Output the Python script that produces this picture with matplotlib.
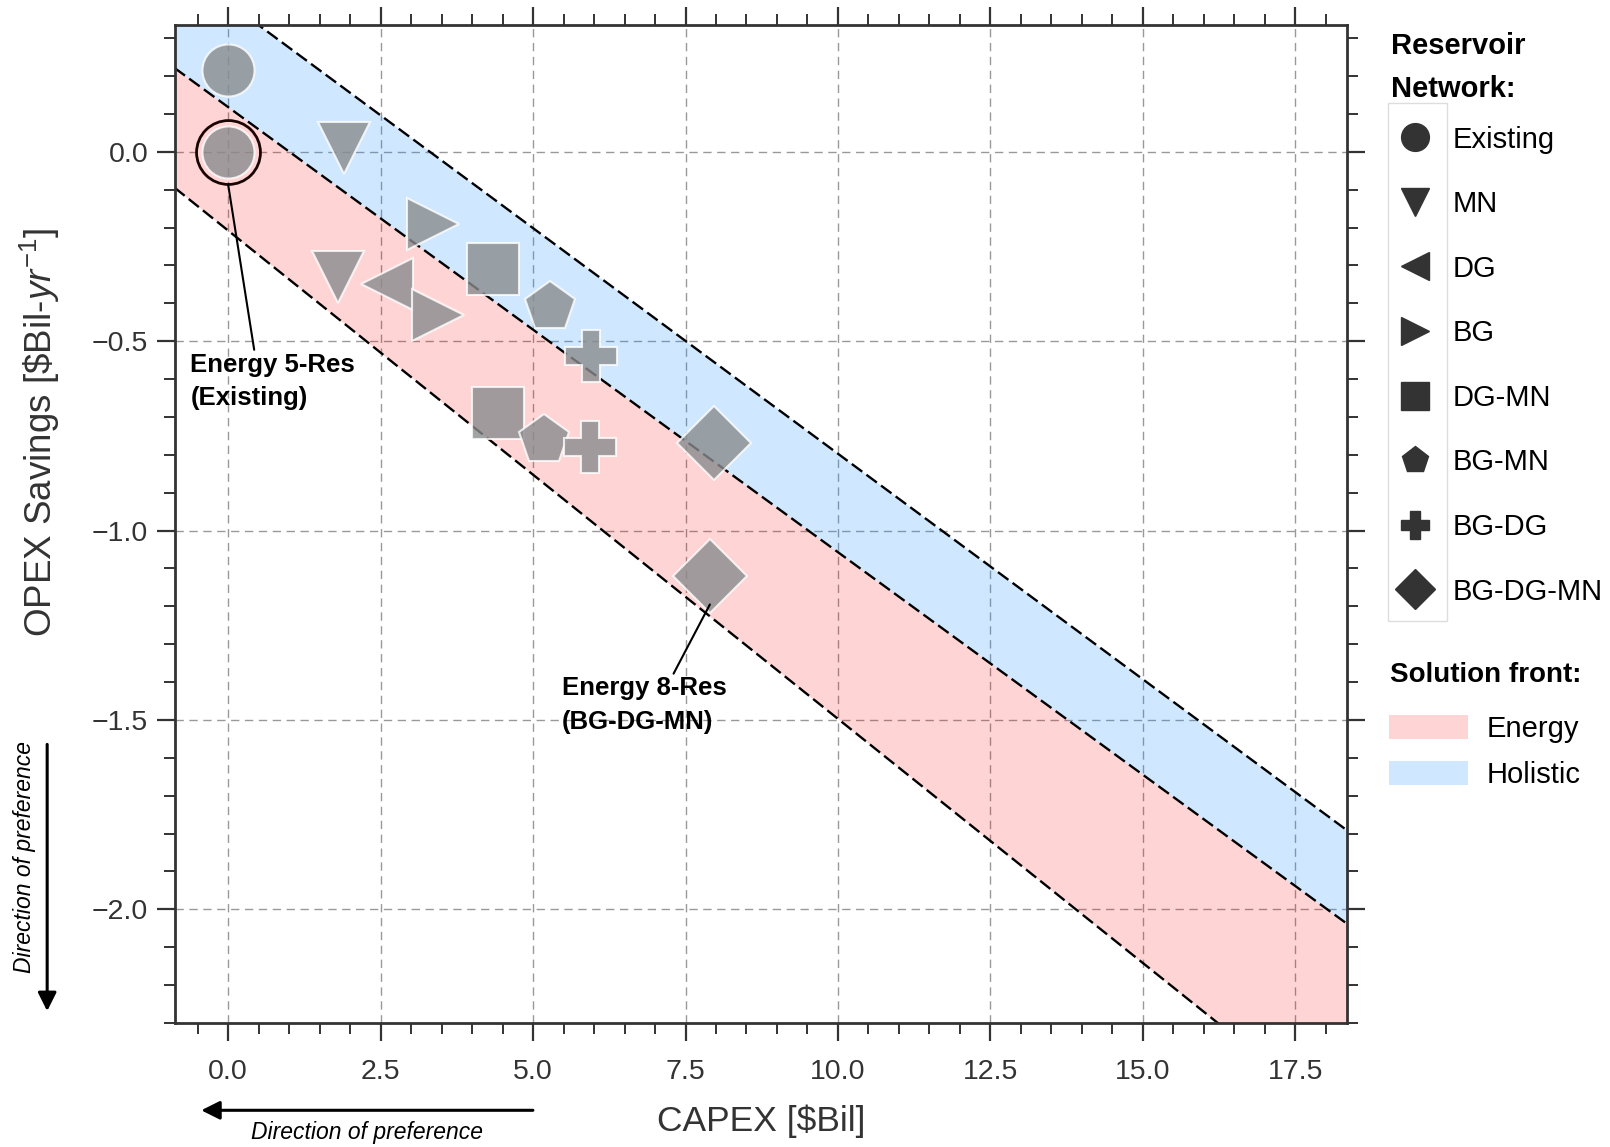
import numpy as np
import matplotlib
matplotlib.use("Agg")
import matplotlib.pyplot as plt
from matplotlib.lines import Line2D
from matplotlib.patches import Patch, Rectangle
from matplotlib.ticker import MultipleLocator

plt.rcParams['font.family'] = ['Liberation Sans', 'DejaVu Sans']
plt.rcParams['mathtext.fontset'] = 'custom'
plt.rcParams['mathtext.rm'] = 'Liberation Sans'
plt.rcParams['mathtext.it'] = 'Liberation Sans:italic'
plt.rcParams['mathtext.bf'] = 'Liberation Sans:bold'

# reservoir networks and their marker
networks = ['Existing', 'MN', 'DG', 'BG', 'DG-MN', 'BG-MN', 'BG-DG', 'BG-DG-MN']
markers = ['o', 'v', '<', '>', 's', 'p', 'P', 'D']

# energy-optimised solutions [$Bil], [$Bil/yr]
energy_capex = [0.0, 1.8, 2.6, 3.44, 4.43, 5.18, 5.93, 7.90]
energy_opex = [0.0, -0.33, -0.35, -0.43, -0.69, -0.76, -0.78, -1.12]

# holistic solutions (no DG-only network)
holistic_capex = [0.0, 1.9, np.nan, 3.36, 4.35, 5.28, 5.95, 7.97]
holistic_opex = [0.215, 0.01, np.nan, -0.19, -0.31, -0.41, -0.54, -0.77]

# front edges as (intercept, slope)
holistic_upper = (0.394, -0.1191)
front_middle = (0.118, -0.1175)
energy_lower = (-0.208, -0.1289)

xlim = (-0.88, 18.35)
ylim = (-2.30, 0.336)

fig = plt.figure(figsize=(16.1, 11.47), dpi=100)
ax = fig.add_axes([0.1084, 0.1081, 0.7283, 0.8705])

xs = np.linspace(xlim[0], xlim[1], 200)
def edge(p):
    return p[0] + p[1] * xs

ax.fill_between(xs, edge(energy_lower), edge(front_middle), color='red', alpha=0.17, lw=0, zorder=1)
ax.fill_between(xs, edge(front_middle), edge(holistic_upper), color='dodgerblue', alpha=0.21, lw=0, zorder=1)
for p in (holistic_upper, front_middle, energy_lower):
    ax.plot(xs, edge(p), ls=(0, (5.5, 2.2)), color='black', lw=1.7, zorder=2)

for i, m in enumerate(markers):
    for cx, cy in ((energy_capex[i], energy_opex[i]), (holistic_capex[i], holistic_opex[i])):
        if np.isnan(cx):
            continue
        ax.plot(cx, cy, ls='none', marker=m, ms=37.5, color='#8a8c8e', alpha=0.8,
                mec='white', mew=1.5, zorder=3)

# ring around the existing energy solution
ax.plot(energy_capex[0], energy_opex[0], ls='none', marker='o', ms=46, mfc='none',
        mec='#1a0505', mew=2, zorder=4)

ax.annotate('Energy 5-Res\n(Existing)', xy=(energy_capex[0], energy_opex[0] - 0.087),
            xytext=(-0.62, -0.53), ha='left', va='top', fontsize=18.5, fontweight='bold',
            linespacing=1.5,
            arrowprops=dict(arrowstyle='-', lw=1.5, color='black', shrinkA=0, shrinkB=0,
                            relpos=(0.39, 1.0)), zorder=5)
ax.annotate('Energy 8-Res\n(BG-DG-MN)', xy=(energy_capex[-1], energy_opex[-1] - 0.075),
            xytext=(5.47, -1.385), ha='left', va='top', fontsize=18.5, fontweight='bold',
            linespacing=1.5,
            arrowprops=dict(arrowstyle='-', lw=1.5, color='black', shrinkA=0, shrinkB=0,
                            relpos=(0.67, 1.0)), zorder=5)

ax.set_xlim(xlim)
ax.set_ylim(ylim)
ax.xaxis.set_major_locator(MultipleLocator(2.5))
ax.xaxis.set_minor_locator(MultipleLocator(0.5))
ax.yaxis.set_major_locator(MultipleLocator(0.5))
ax.yaxis.set_minor_locator(MultipleLocator(0.1))
ax.tick_params(which='both', direction='out', top=True, right=True, colors='#333333',
               labelsize=20.5)
ax.tick_params(which='major', length=13, width=1.6)
ax.tick_params(axis='x', which='major', pad=13)
ax.tick_params(axis='y', which='major', pad=6)
ax.tick_params(which='minor', length=8, width=1.4)
for s in ax.spines.values():
    s.set_linewidth(2)
    s.set_color('#333333')
ax.set_axisbelow(True)
ax.grid(True, which='major', color='#999999', lw=1.0, ls=(0, (6, 4)))

ax.set_xlabel('CAPEX [$Bil]', fontsize=25.5, color='#333333', va='center')
ax.xaxis.set_label_coords(0.5, -0.098)
ax.set_ylabel(r'OPEX Savings [\$Bil-$yr^{-1}$]', fontsize=26.5, color='#333333', va='center')
ax.yaxis.set_label_coords(-0.115, 0.592)

# direction of preference arrows
arrow = dict(arrowstyle='-|>', lw=2.2, color='black', mutation_scale=28, shrinkA=0, shrinkB=0)
ax.annotate('', xy=(0.125, 0.032), xytext=(0.331, 0.032), xycoords='figure fraction',
            arrowprops=arrow)
fig.text(0.2277, 0.0125, 'Direction of preference', style='italic', fontsize=16.5,
         ha='center', va='center')
ax.annotate('', xy=(0.0293, 0.1185), xytext=(0.0293, 0.351), xycoords='figure fraction',
            arrowprops=arrow)
fig.text(0.0153, 0.2527, 'Direction of preference', style='italic', fontsize=16.5,
         ha='center', va='center', rotation=90)

# legends
fig.text(0.864, 0.9413, 'Reservoir\nNetwork:', fontsize=21, fontweight='bold',
         ha='left', va='center', linespacing=1.7)
handles = [Line2D([], [], ls='none', marker=m, ms=20, color='#333333') for m in markers]
leg1 = ax.legend(handles, networks, loc='center left',
                 bbox_to_anchor=(0.8627, 0.6813), bbox_transform=fig.transFigure,
                 frameon=False, fontsize=21, borderpad=0, borderaxespad=0,
                 handlelength=1.78, handletextpad=0.41, labelspacing=1.254)
ax.add_artist(leg1)
fig.patches.append(Rectangle((0.862, 0.4586), 0.037, 0.4514, transform=fig.transFigure,
                             fill=False, ec='#dddddd', lw=1))

fig.text(0.8635, 0.4119, 'Solution front:', fontsize=20, fontweight='bold',
         ha='left', va='center')
fronts = [Patch(facecolor='red', alpha=0.17), Patch(facecolor='dodgerblue', alpha=0.21)]
ax.legend(fronts, ['Energy', 'Holistic'], loc='center left',
          bbox_to_anchor=(0.8627, 0.3443), bbox_transform=fig.transFigure,
          frameon=False, fontsize=21, borderpad=0, borderaxespad=0, handlelength=2.7,
          handleheight=0.9, handletextpad=0.65, labelspacing=0.63)

fig.savefig('out.png', dpi=100)
